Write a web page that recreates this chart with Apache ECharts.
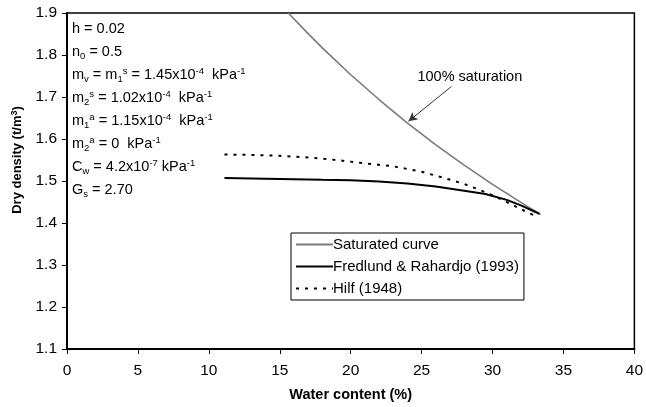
<!DOCTYPE html>
<html>
<head>
<meta charset="utf-8">
<script src="https://cdn.jsdelivr.net/npm/echarts@6/dist/echarts.min.js"></script>
<style>html,body{margin:0;padding:0;background:#fff}#c{width:646px;height:407px}</style>
</head>
<body>
<div id="c"></div>
<script>
// Water content (%) values and dry density (t/m3)
const satW   = [15.6, 17, 18, 20, 22, 24, 26, 28, 30, 32, 33.4];
const satRho = [1.900, 1.851, 1.817, 1.753, 1.694, 1.638, 1.586, 1.538, 1.492, 1.449, 1.420];

const fredW   = [11.1, 13, 15, 18, 20, 22, 24, 26, 28, 29.5, 31, 32, 33.3];
const fredRho = [1.507, 1.506, 1.505, 1.503, 1.502, 1.499, 1.494, 1.487, 1.477, 1.469, 1.455, 1.442, 1.422];

const hilfW   = [11.1, 13, 15, 17, 19, 21, 23, 25, 26.5, 28, 29, 30, 31, 32, 33.2];
const hilfRho = [1.563, 1.562, 1.560, 1.556, 1.550, 1.542, 1.535, 1.522, 1.508, 1.493, 1.480, 1.466, 1.450, 1.433, 1.414];

const seriesNames = ['Saturated curve', 'Fredlund & Rahardjo (1993)', 'Hilf (1948)'];
const xTicks = [0, 5, 10, 15, 20, 25, 30, 35, 40];
const yTicks = [1.1, 1.2, 1.3, 1.4, 1.5, 1.6, 1.7, 1.8, 1.9];

// Annotation: "100% saturation" label position and arrow (data coords)
const annoLabel = [28.4, 1.748];
const arrowFrom = [27.1, 1.725];
const arrowTo   = [24.07, 1.642];

const paramLines = [
  'h = 0.02',
  'n{sub|0} = 0.5',
  'm{sub|v} = m{sub|1}{sup|s} = 1.45x10{sup|-4}  kPa{sup|-1}',
  'm{sub|2}{sup|s} = 1.02x10{sup|-4}  kPa{sup|-1}',
  'm{sub|1}{sup|a} = 1.15x10{sup|-4}  kPa{sup|-1}',
  'm{sub|2}{sup|a} = 0  kPa{sup|-1}',
  'C{sub|w} = 4.2x10{sup|-7} kPa{sup|-1}',
  'G{sub|s} = 2.70'
];

const zip = (a, b) => a.map((v, i) => [v, b[i]]);
const FONT = 'Liberation Sans, Arial, sans-serif';

const chart = echarts.init(document.getElementById('c'), null, {renderer: 'canvas'});
chart.setOption({
  animation: false,
  backgroundColor: '#fff',
  textStyle: {fontFamily: FONT},
  grid: {left: 67, right: 9, top: 13, bottom: 56, show: true, borderColor: '#000', borderWidth: 1.5, backgroundColor: 'transparent'},
  xAxis: {
    type: 'value', min: xTicks[0], max: xTicks[xTicks.length - 1], interval: 5,
    name: 'Water content (%)', nameLocation: 'middle', nameGap: 38,
    nameTextStyle: {fontFamily: FONT, fontWeight: 'bold', fontSize: 14.5, color: '#000'},
    axisLine: {lineStyle: {color: '#000', width: 2}},
    axisTick: {show: true, length: 5, lineStyle: {color: '#000', width: 1}},
    axisLabel: {fontFamily: FONT, fontSize: 15.5, color: '#000', margin: 14},
    splitLine: {show: false}
  },
  yAxis: {
    type: 'value', min: yTicks[0], max: yTicks[yTicks.length - 1], interval: 0.1,
    name: '{b|Dry density (t/m}{s|3}{b|)}', nameLocation: 'middle', nameGap: 37,
    nameTextStyle: {
      fontFamily: FONT, fontWeight: 'bold', fontSize: 13, color: '#000', padding: [0, 0, 0, 42],
      rich: {
        b: {fontFamily: FONT, fontWeight: 'bold', fontSize: 13, color: '#000', lineHeight: 16},
        s: {fontFamily: FONT, fontWeight: 'bold', fontSize: 9, color: '#000', lineHeight: 16, verticalAlign: 'top', padding: [0, 0, 6, 0]}
      }
    },
    axisLine: {show: true, lineStyle: {color: '#000', width: 2}},
    axisTick: {show: true, length: 5, lineStyle: {color: '#000', width: 1}},
    axisLabel: {fontFamily: FONT, fontSize: 15.5, color: '#000', margin: 10, formatter: v => v.toFixed(1)},
    splitLine: {show: false}
  },
  legend: {
    orient: 'vertical', left: 291, top: 233,
    data: seriesNames,
    backgroundColor: '#fff', borderColor: '#000', borderWidth: 1,
    padding: [4, 5, 4, 4], itemGap: 7, itemWidth: 37, itemHeight: 14,
    textStyle: {fontFamily: FONT, fontSize: 15, color: '#000', padding: [0, 0, 0, -5]},
    itemStyle: {opacity: 0}
  },
  graphic: [{
    type: 'text', left: 72, top: 17, z: 10,
    style: {
      text: paramLines.join('\n'),
      font: '14.5px ' + FONT, fill: '#000', lineHeight: 23,
      rich: {
        sub: {fontSize: 9.5, fontFamily: FONT, fill: '#000', lineHeight: 12, verticalAlign: 'bottom', padding: [0, 0, 2, 0]},
        sup: {fontSize: 9.5, fontFamily: FONT, fill: '#000', lineHeight: 12, verticalAlign: 'top', padding: [3, 0, 0, 0]}
      }
    }
  }],
  series: [
    {
      name: seriesNames[0], type: 'line', data: zip(satW, satRho), showSymbol: false, symbol: 'none',
      lineStyle: {color: '#7a7a7a', width: 1.6}, itemStyle: {color: '#7a7a7a'}, z: 3,
      markPoint: {
        symbol: 'circle', symbolSize: 0, silent: true,
        label: {show: true, position: 'inside', formatter: '100% saturation', fontFamily: FONT, fontSize: 14.5, color: '#000'},
        data: [{coord: annoLabel}]
      },
      markLine: {
        silent: true, symbol: ['none', 'arrow'], symbolSize: [7, 9],
        lineStyle: {color: '#333', width: 1, type: 'solid'}, label: {show: false},
        data: [[{coord: arrowFrom}, {coord: arrowTo}]]
      }
    },
    {
      name: seriesNames[1], type: 'line', data: zip(fredW, fredRho), showSymbol: false, symbol: 'none',
      lineStyle: {color: '#000', width: 2}, itemStyle: {color: '#000'}, z: 4
    },
    {
      name: seriesNames[2], type: 'line', data: zip(hilfW, hilfRho), showSymbol: false, symbol: 'none',
      lineStyle: {color: '#000', width: 2, type: [3, 6]}, itemStyle: {color: '#000'}, z: 4
    }
  ]
});
</script>
</body>
</html>
